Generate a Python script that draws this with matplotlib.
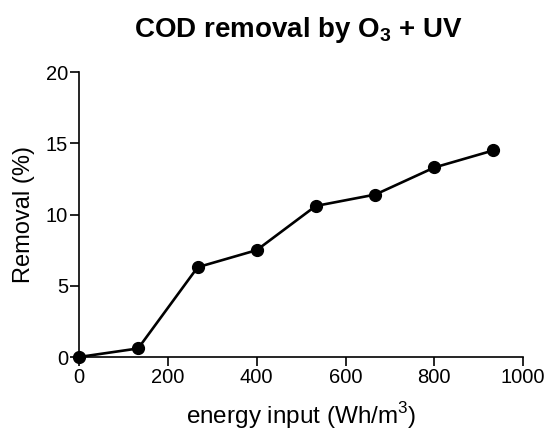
import matplotlib
matplotlib.use("Agg")
import matplotlib.pyplot as plt

energy = [0, 133, 267, 400, 533, 667, 800, 933]
removal = [0.0, 0.6, 6.3, 7.5, 10.6, 11.4, 13.3, 14.5]
xticks = [0, 200, 400, 600, 800, 1000]
yticks = [0, 5, 10, 15, 20]

plt.rcParams['font.family'] = ['Liberation Sans', 'DejaVu Sans']
plt.rcParams['mathtext.fontset'] = 'custom'
plt.rcParams['mathtext.rm'] = 'Liberation Sans'
plt.rcParams['mathtext.bf'] = 'Liberation Sans:bold'
fig = plt.figure(figsize=(5.49, 4.32), dpi=100)
ax = fig.add_axes([0.144, 0.1736, 0.809, 0.6597])
ax.plot(energy, removal, color='black', lw=1.9, marker='o', ms=8.5, clip_on=False, zorder=3)
ax.set_xlim(0, 1000)
ax.set_ylim(0, 20)
ax.set_xticks(xticks)
ax.set_yticks(yticks)
for s in ['top', 'right']:
    ax.spines[s].set_visible(False)
for s in ['left', 'bottom']:
    ax.spines[s].set_linewidth(1.2)
ax.tick_params(direction='out', length=6.5, width=1.2, labelsize=14.5, pad=1.5)
ax.set_xlabel('energy input (Wh/m$^3$)', fontsize=17.5, labelpad=9)
ax.set_ylabel('Removal (%)', fontsize=17, labelpad=8)
fig.text(299/549, 1-37/432, 'COD removal by O$_\\mathbf{3}$ + UV', fontsize=20,
         fontweight='bold', ha='center', va='baseline')
fig.savefig('out.png', dpi=100)
